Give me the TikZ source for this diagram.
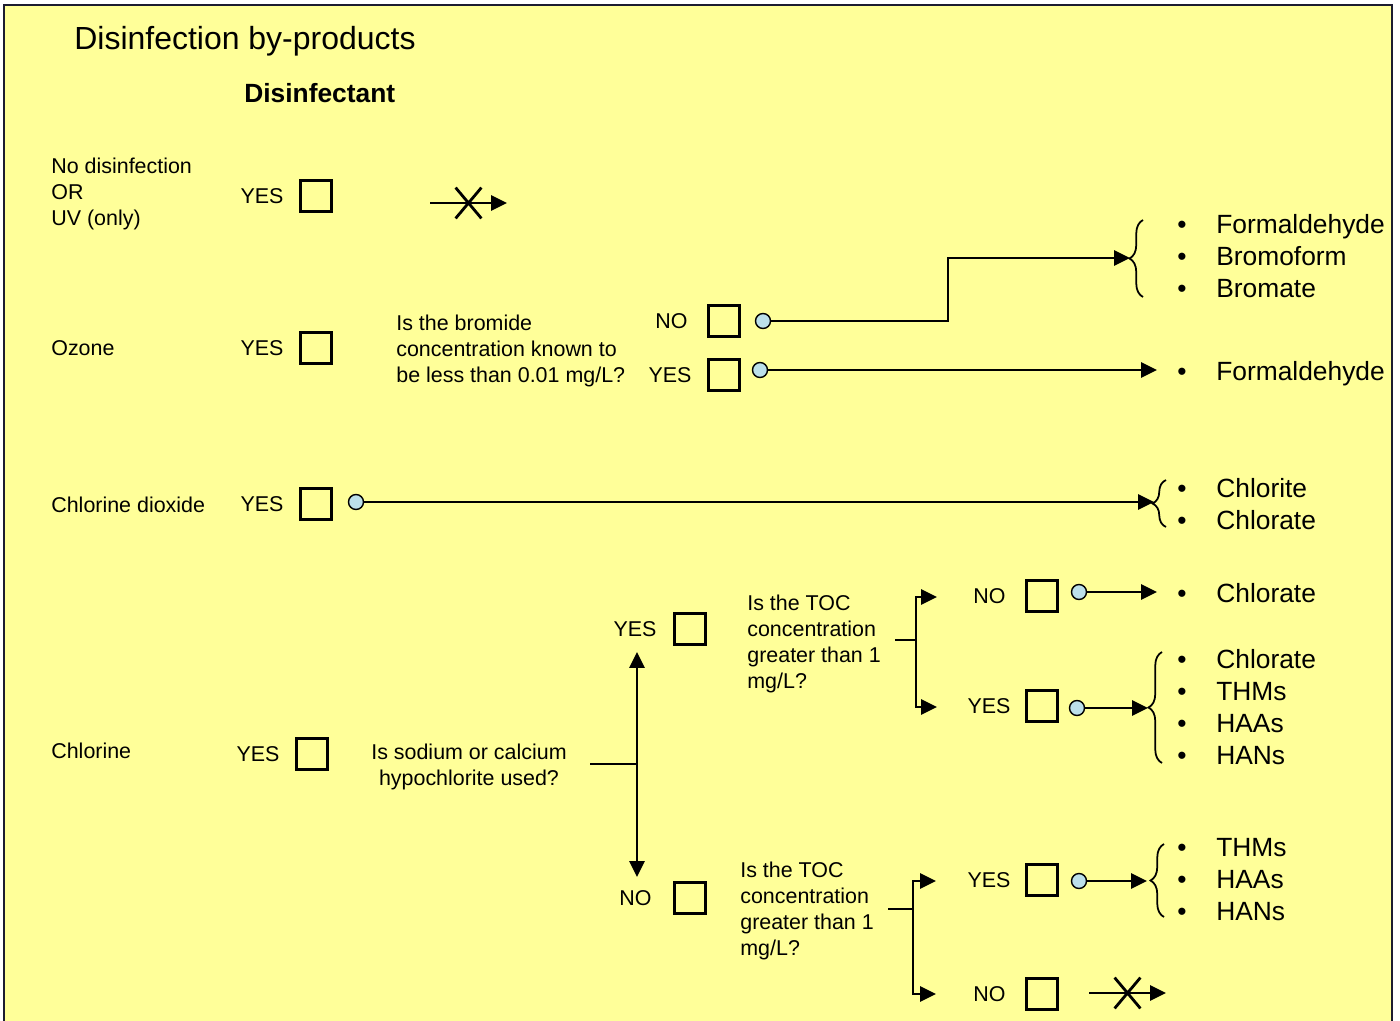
\documentclass[tikz,border=0pt]{standalone}
\usepackage{fontspec}
\setmainfont{Liberation Sans}
\usetikzlibrary{arrows.meta, positioning, calc, decorations.pathreplacing, shapes.misc}
\definecolor{sheet}{RGB}{255, 255, 153}
\definecolor{frame}{RGB}{28, 28, 48}
\definecolor{knobfill}{RGB}{188, 224, 234}
\newcommand{\itm}[1]{\makebox[0.78cm][l]{\textbullet}#1}

\begin{document}
\begin{tikzpicture}[x=0.02cm, y=-0.02cm,
  tick/.style={draw, line width=1.3pt, minimum size=0.62cm, inner sep=0pt},
  knob/.style={circle, draw, fill=knobfill, line width=0.8pt,
               minimum size=0.3cm, inner sep=0pt},
  lab/.style={font=\fontsize{12.2}{14.7}\selectfont, inner sep=0pt},
  ask/.style={font=\fontsize{12.2}{14.7}\selectfont, inner sep=0pt, align=left},
  prods/.style={font=\fontsize{15}{18.2}\selectfont, inner sep=0pt,
                align=left, anchor=north west},
  wire/.style={line width=1.4pt},
  flow/.style={wire, -{Triangle[length=9pt, width=8.5pt]}},
  curly/.style={decorate, decoration={brace, amplitude=0.27cm}, line width=1pt},
  nogo/.style={draw, cross out, line width=1.6pt, minimum width=0.46cm,
               minimum height=0.56cm, inner sep=0pt}]
  \useasboundingbox (0,0) rectangle (1400,1021);
  % ── Sheet ──
  \fill[sheet] (4,5) rectangle (1392,1030);
  \draw[frame, line width=1.1pt] (4,1030) -- (4,5) -- (1392,5) -- (1392,1030);
  \node[anchor=base west, inner sep=0pt, font=\fontsize{18.2}{22}\selectfont]
    (title) at (74,50) {Disinfection by-products};
  \node[anchor=base west, inner sep=0pt, font=\fontsize{15}{18}\selectfont\bfseries]
    (head) at (244,102) {Disinfectant};
  % ── No disinfection / UV ──
  \node[ask, anchor=north west] (none) at (51,158) {No disinfection\\OR\\UV (only)};
  \node[tick] (b-none) at (316,196) {};
  \node[lab, left=0.31cm of b-none] (y-none) {YES};
  \coordinate (x1a) at (430,203);
  \coordinate (x1b) at (507,203);
  \draw[flow] (x1a) -- (x1b) node[nogo, midway] (x1) {};
  % ── Ozone ──
  \node[lab, anchor=west] (ozone) at (51,348) {Ozone};
  \node[tick] (b-ozone) at (316,348) {};
  \node[lab, left=0.31cm of b-ozone] (y-ozone) {YES};
  \node[ask, anchor=north west] (q-bromide) at (396,315)
    {Is the bromide\\concentration known to\\be less than 0.01 mg/L?};
  \node[tick] (b-brno) at (724,321) {};
  \node[lab, left=0.39cm of b-brno] (n-brno) {NO};
  \node[tick] (b-bryes) at (724,375) {};
  \node[lab, left=0.31cm of b-bryes] (y-bryes) {YES};
  \node[knob] (k-brno) at (763,321) {};
  \node[knob] (k-bryes) at (760,370) {};
  \coordinate (turn) at (948,258);
  \coordinate (br-brno) at (1130,258);
  \coordinate (tip-bryes) at (1157,370);
  \draw[flow] (k-brno) -| (turn) -- (br-brno);
  \draw[flow] (k-bryes) -- (tip-bryes);
  \draw[curly] (1143,297) -- (1143,220);
  \node[prods] (p-brno) at (1177,214.5)
    {\itm{Formaldehyde}\\\itm{Bromoform}\\\itm{Bromate}};
  \node[prods] (p-bryes) at (1177,361.5) {\itm{Formaldehyde}};
  % ── Chlorine dioxide ──
  \node[lab, anchor=west] (clo2) at (51,505) {Chlorine dioxide};
  \node[tick] (b-clo2) at (316,504) {};
  \node[lab, left=0.31cm of b-clo2] (y-clo2) {YES};
  \node[knob] (k-clo2) at (356,502) {};
  \coordinate (br-clo2) at (1154,502);
  \draw[flow] (k-clo2) -- (br-clo2);
  \draw[curly] (1166,527) -- (1166,480);
  \node[prods] (p-clo2) at (1177,478.5) {\itm{Chlorite}\\\itm{Chlorate}};
  % ── Chlorine ──
  \node[lab, anchor=west] (cl) at (51,751) {Chlorine};
  \node[tick] (b-cl) at (312,754) {};
  \node[lab, left=0.31cm of b-cl] (y-cl) {YES};
  \node[ask, anchor=north, align=center] (q-hypo) at (469,744)
    {Is sodium or calcium\\hypochlorite used?};
  \coordinate (s-hypo) at (590,764);
  \coordinate (f-hypo) at (637,764);
  \coordinate (up) at (637,652);
  \coordinate (dn) at (637,877);
  \draw[wire] (s-hypo) -- (f-hypo);
  \draw[flow] (f-hypo) -- (up);
  \draw[flow] (f-hypo) -- (dn);
  \node[tick] (b-hyyes) at (690,629) {};
  \node[lab, left=0.33cm of b-hyyes] (y-hyyes) {YES};
  \node[tick] (b-hyno) at (690,898) {};
  \node[lab, left=0.43cm of b-hyno] (n-hyno) {NO};
  % ── TOC, hypochlorite used ──
  \node[ask, anchor=north west] (q-toc1) at (747,595)
    {Is the TOC\\concentration\\greater than 1\\mg/L?};
  \coordinate (s-toc1) at (895,640);
  \coordinate (f-toc1) at (916,640);
  \coordinate (toc1-no) at (937,597);
  \coordinate (toc1-yes) at (937,707);
  \draw[wire] (s-toc1) -- (f-toc1);
  \draw[flow] (f-toc1) |- (toc1-no);
  \draw[flow] (f-toc1) |- (toc1-yes);
  \node[tick] (b-t1no) at (1042,596) {};
  \node[lab, left=0.39cm of b-t1no] (n-t1no) {NO};
  \node[tick] (b-t1yes) at (1042,706) {};
  \node[lab, left=0.29cm of b-t1yes] (y-t1yes) {YES};
  \node[knob] (k-t1no) at (1079,592) {};
  \node[knob] (k-t1yes) at (1077,708) {};
  \coordinate (tip-t1no) at (1157,592);
  \coordinate (br-t1yes) at (1148,708);
  \draw[flow] (k-t1no) -- (tip-t1no);
  \draw[flow] (k-t1yes) -- (br-t1yes);
  \draw[curly] (1162,763) -- (1162,652);
  \node[prods] (p-t1no) at (1177,583.5) {\itm{Chlorate}};
  \node[prods] (p-t1yes) at (1177,649.5)
    {\itm{Chlorate}\\\itm{THMs}\\\itm{HAAs}\\\itm{HANs}};
  % ── TOC, hypochlorite not used ──
  \node[ask, anchor=north west] (q-toc2) at (740,862)
    {Is the TOC\\concentration\\greater than 1\\mg/L?};
  \coordinate (s-toc2) at (888,909);
  \coordinate (f-toc2) at (913,909);
  \coordinate (toc2-yes) at (936,881);
  \coordinate (toc2-no) at (936,994);
  \draw[wire] (s-toc2) -- (f-toc2);
  \draw[flow] (f-toc2) |- (toc2-yes);
  \draw[flow] (f-toc2) |- (toc2-no);
  \node[tick] (b-t2yes) at (1042,880) {};
  \node[lab, left=0.29cm of b-t2yes] (y-t2yes) {YES};
  \node[tick] (b-t2no) at (1042,994) {};
  \node[lab, left=0.39cm of b-t2no] (n-t2no) {NO};
  \node[knob] (k-t2yes) at (1079,881) {};
  \coordinate (br-t2yes) at (1147,881);
  \draw[flow] (k-t2yes) -- (br-t2yes);
  \draw[curly] (1164,917) -- (1164,844);
  \node[prods] (p-t2yes) at (1177,838.5) {\itm{THMs}\\\itm{HAAs}\\\itm{HANs}};
  \coordinate (x2a) at (1089,993);
  \coordinate (x2b) at (1166,993);
  \draw[flow] (x2a) -- (x2b) node[nogo, midway] (x2) {};
\end{tikzpicture}
\end{document}
